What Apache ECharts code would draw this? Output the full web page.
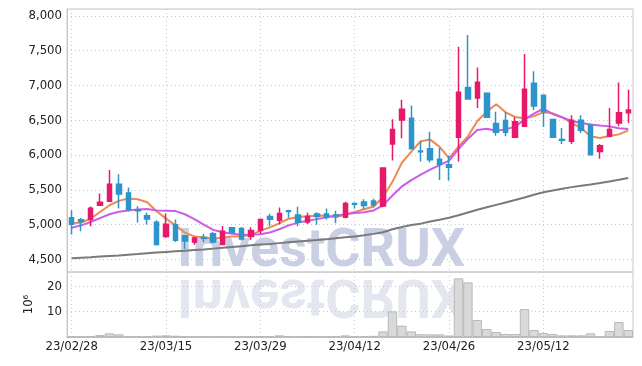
<!DOCTYPE html>
<html>
<head>
<meta charset="utf-8">
<script src="https://cdn.jsdelivr.net/npm/echarts@6/dist/echarts.min.js"></script>
<style>
html,body{margin:0;padding:0;background:#fff;}
#main{width:642px;height:366px;}
</style>
</head>
<body>
<div id="main"></div>
<script>
var dates = ['23/02/28','23/03/02','23/03/03','23/03/06','23/03/07','23/03/08','23/03/09','23/03/10','23/03/13','23/03/14',
    '23/03/15','23/03/16','23/03/17','23/03/20','23/03/21','23/03/22','23/03/23','23/03/24','23/03/27','23/03/28',
    '23/03/29','23/03/30','23/03/31','23/04/03','23/04/04','23/04/05','23/04/06','23/04/07','23/04/10','23/04/11',
    '23/04/12','23/04/13','23/04/14','23/04/17','23/04/18','23/04/19','23/04/20','23/04/21','23/04/24','23/04/25',
    '23/04/26','23/04/27','23/04/28','23/05/02','23/05/03','23/05/04','23/05/08','23/05/09','23/05/10','23/05/11',
    '23/05/12','23/05/15','23/05/16','23/05/17','23/05/18','23/05/19','23/05/22','23/05/23','23/05/24','23/05/25'];

var openVals = [5100,5070,5075,5280,5337,5580,5455,5215,5130,5034,
    4832,5000,4840,4752,4815,4870,4716,4957,4945,4832,
    4915,5116,5063,5200,5141,5039,5155,5155,5140,5107,
    5303,5325,5340,5267,6160,6505,6529,6060,6092,5942,
    5860,6256,6970,6820,6888,6454,6497,6256,6415,7033,
    6859,6512,6225,6198,6502,6430,6053,6270,6463,6608];
var closeVals = [5005,5045,5235,5322,5582,5442,5220,5200,5082,4716,
    5005,4778,4765,4808,4800,4750,4904,4893,4793,4918,
    5075,5078,5160,5190,5034,5116,5116,5107,5130,5306,
    5295,5277,5282,5815,6369,6660,6092,6050,5932,5870,
    5826,6902,6806,7047,6545,6328,6328,6478,6946,6705,
    6623,6256,6215,6502,6357,6005,6135,6367,6608,6647];
var lowVals = [4860,4905,4978,5272,5330,5232,5192,5030,5002,4702,
    4812,4752,4652,4712,4750,4735,4710,4880,4775,4783,
    4870,4978,5005,5100,4976,5010,5000,5073,5020,5092,
    5233,5223,5252,5252,5922,6243,6085,5908,5893,5641,
    5633,5908,6800,6676,6540,6280,6270,6250,6410,6647,
    6405,6246,6160,6159,6318,6000,5947,6256,6415,6463];
var highVals = [5207,5095,5262,5450,5785,5725,5534,5265,5172,5062,
    5160,5074,4848,4832,4866,4895,4980,4962,4968,4962,
    5090,5156,5248,5213,5257,5170,5180,5233,5200,5330,
    5320,5364,5374,5820,6514,6796,6713,6199,6335,6102,
    5995,7559,7728,7260,6890,6623,6618,6545,7453,7207,
    6862,6515,6390,6574,6574,6449,6159,6676,7042,6941];

// moving averages as drawn in the picture
var ma5 = [5024,5029,5087,5183,5279,5342,5375,5366,5322,5192,
    5087,4990,4885,4832,4820,4798,4815,4830,4835,4850,
    4915,4961,5019,5085,5110,5121,5130,5133,5107,5146,
    5184,5223,5262,5398,5616,5890,6050,6200,6223,6118,
    5958,6120,6270,6490,6625,6730,6615,6548,6530,6560,
    6615,6600,6545,6460,6390,6270,6245,6275,6298,6355];
var ma10 = [4957,4990,5038,5095,5150,5185,5205,5220,5225,5205,
    5200,5195,5150,5080,5000,4925,4890,4870,4855,4855,
    4862,4888,4935,4990,5030,5055,5080,5105,5128,5150,
    5168,5180,5204,5277,5420,5550,5640,5720,5790,5855,
    5920,6085,6235,6360,6378,6350,6370,6410,6510,6595,
    6668,6590,6540,6490,6463,6440,6424,6413,6385,6375];
var ma60 = [4517,4525,4533,4542,4550,4558,4568,4577,4588,4599,
    4609,4619,4627,4636,4645,4656,4667,4679,4691,4703,
    4714,4724,4735,4746,4757,4768,4779,4792,4805,4818,
    4830,4848,4868,4892,4935,4967,4995,5015,5045,5070,
    5100,5135,5175,5215,5250,5285,5320,5355,5390,5430,
    5465,5490,5515,5540,5560,5578,5598,5620,5645,5672];

var volumes = [0.3,0.25,0.35,0.8,1.45,1.05,0.4,0.25,0.3,0.55,
    0.65,0.5,0.3,0.25,0.2,0.3,0.35,0.25,0.2,0.25,
    0.3,0.35,0.65,0.3,0.35,0.25,0.3,0.25,0.2,0.65,
    0.3,0.35,0.45,2.2,10.1,4.45,2.2,1.1,1.05,1.05,
    0.6,23.1,21.5,6.7,3.15,2.0,1.2,1.2,11.0,2.75,
    1.6,1.2,0.65,0.65,0.65,1.45,0.2,2.35,5.9,2.75];

var candles = [];
for (var i = 0; i < dates.length; i++) {
    candles.push([openVals[i], closeVals[i], lowVals[i], highVals[i]]);
}

var labelFont = 'DejaVu Sans Condensed';
var gridDash = {color: '#c6c9da', type: [1, 3], width: 1};

var myChart = echarts.init(document.getElementById('main'));
var option = {
    animation: false,
    backgroundColor: '#fff',
    graphic: [
        {
            type: 'text', x: 177, y: 252, z: -10,
            style: {text: 'InvestCRUX', font: 'bold 54px Roboto', fill: '#c9d0e3', verticalAlign: 'middle'}
        },
        {
            type: 'text', x: 177, y: 293, z: -10, scaleY: -1,
            style: {text: 'InvestCRUX', font: 'bold 54px Roboto', fill: '#e4e7ef', verticalAlign: 'middle'}
        }
    ],
    grid: [
        {left: 67, right: 9, top: 9, height: 263, show: true, borderColor: '#c8c8c8', borderWidth: 1},
        {left: 67, right: 9, top: 272, height: 65, show: true, borderColor: '#c8c8c8', borderWidth: 1}
    ],
    xAxis: [
        {
            type: 'category', gridIndex: 0, data: dates, boundaryGap: true,
            axisLine: {show: false}, axisTick: {show: false}, axisLabel: {show: false},
            splitLine: {show: true, interval: 9, alignWithLabel: true, lineStyle: gridDash}
        },
        {
            type: 'category', gridIndex: 1, data: dates, boundaryGap: true,
            axisLine: {show: true, lineStyle: {color: '#bdbdbd'}},
            axisTick: {show: false},
            axisLabel: {interval: 9, color: '#222', fontFamily: labelFont, fontSize: 13, margin: 3},
            splitLine: {show: true, interval: 9, alignWithLabel: true, lineStyle: gridDash}
        }
    ],
    yAxis: [
        {
            type: 'value', gridIndex: 0, min: 4320, max: 8100, splitNumber: 8,
            minInterval: 500, maxInterval: 500,
            axisLine: {show: true, lineStyle: {color: '#c8c8c8'}},
            axisTick: {show: false},
            axisLabel: {
                color: '#222', fontFamily: labelFont, fontSize: 13, margin: 5,
                showMinLabel: false, showMaxLabel: false,
                formatter: function (v) { return v.toLocaleString('en-US'); }
            },
            splitLine: {lineStyle: gridDash}
        },
        {
            type: 'value', gridIndex: 1, min: 0, max: 25.6, interval: 10,
            name: '10\u2076', nameLocation: 'middle', nameRotate: 90, nameGap: 32,
            nameTextStyle: {color: '#222', fontFamily: labelFont, fontSize: 13},
            axisLine: {show: true, lineStyle: {color: '#c8c8c8'}},
            axisTick: {show: false},
            axisLabel: {color: '#222', fontFamily: labelFont, fontSize: 13, margin: 5,
                showMinLabel: false, showMaxLabel: false},
            splitLine: {lineStyle: gridDash}
        }
    ],
    series: [
        {
            name: 'candle', type: 'candlestick', xAxisIndex: 0, yAxisIndex: 0,
            data: candles, barWidth: 5,
            itemStyle: {
                color: '#e6196b', color0: '#2d95c9',
                borderColor: '#e6196b', borderColor0: '#2d95c9', borderWidth: 1.5
            },
            z: 5
        },
        {
            name: 'MA5', type: 'line', xAxisIndex: 0, yAxisIndex: 0, data: ma5,
            showSymbol: false, lineStyle: {color: '#ee8a50', width: 2}, z: 4
        },
        {
            name: 'MA10', type: 'line', xAxisIndex: 0, yAxisIndex: 0, data: ma10,
            showSymbol: false, lineStyle: {color: '#cc5ce8', width: 2}, z: 4
        },
        {
            name: 'MA60', type: 'line', xAxisIndex: 0, yAxisIndex: 0, data: ma60,
            showSymbol: false, lineStyle: {color: '#7a7a7a', width: 2}, z: 4
        },
        {
            name: 'volume', type: 'bar', xAxisIndex: 1, yAxisIndex: 1, data: volumes,
            barWidth: '100%',
            itemStyle: {color: '#d9d9d9', borderColor: '#b9b9b9', borderWidth: 1}
        }
    ]
};
myChart.setOption(option);
</script>
</body>
</html>
